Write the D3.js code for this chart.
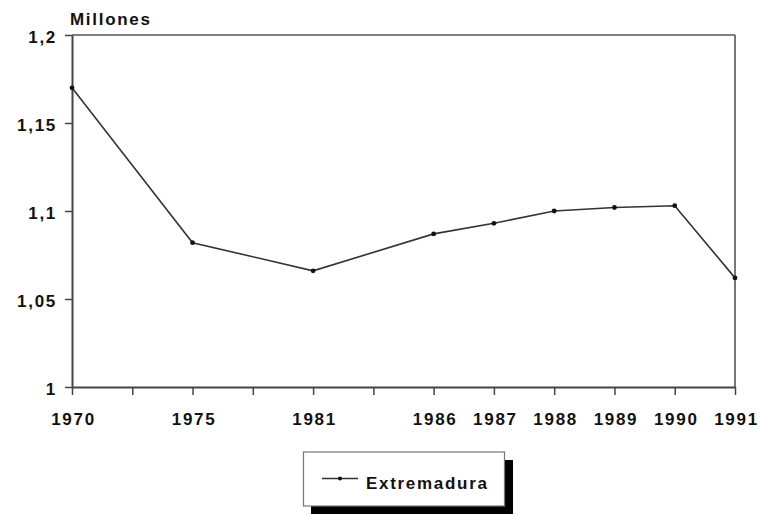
<!DOCTYPE html>
<html>
<head>
<meta charset="utf-8">
<script src="https://cdn.jsdelivr.net/npm/d3@7"></script>
<style>
  body { margin: 0; background: #fff; }
  svg { display: block; }
  text { font-family: "Liberation Sans", Arial, sans-serif; font-weight: bold; font-size: 17px; letter-spacing: 1.7px; fill: #111; }
</style>
</head>
<body>
<svg id="chart" width="761" height="515"></svg>
<script>
// Categories (blank slots are unlabeled intermediate ticks)
const categories = ["1970", "", "1975", "", "1981", "", "1986", "1987", "1988", "1989", "1990", "1991"];
// Population of Extremadura, millions (null = no data at that slot)
const values = [1.170, null, 1.082, null, 1.066, null, 1.087, 1.093, 1.100, 1.102, 1.103, 1.062];
const yTicks = [1, 1.05, 1.1, 1.15, 1.2];
const yTickLabels = ["1", "1,05", "1,1", "1,15", "1,2"];
const seriesName = "Extremadura";
const unitLabel = "Millones";

const svg = d3.select("#chart");
const m = { left: 72, right: 735, top: 35, bottom: 387 };

const x = d3.scalePoint().domain(d3.range(categories.length)).range([m.left, m.right]);
const y = d3.scaleLinear().domain([1, 1.2]).range([m.bottom, m.top]);

const axisColor = "#444";

// Frame: top and right border
svg.append("line").attr("x1", m.left).attr("x2", m.right).attr("y1", m.top).attr("y2", m.top)
  .attr("stroke", "#555").attr("stroke-width", 1.6);
svg.append("line").attr("x1", m.right).attr("x2", m.right).attr("y1", m.top).attr("y2", m.bottom)
  .attr("stroke", "#555").attr("stroke-width", 1.6);

// Y axis
const yAxis = svg.append("g").attr("transform", `translate(${m.left},0)`)
  .call(d3.axisLeft(y).tickValues(yTicks).tickFormat((d, i) => yTickLabels[i]).tickSize(7).tickSizeOuter(0).tickPadding(10));
yAxis.select(".domain").attr("stroke", axisColor).attr("stroke-width", 2);
yAxis.selectAll(".tick line").attr("stroke", axisColor).attr("stroke-width", 1.5);
yAxis.selectAll(".tick text").attr("font-size", null).attr("font-family", null)
  .attr("dy", "0.42em").attr("dx", "2px").style("fill", "#111");

// X axis
const xAxis = svg.append("g").attr("transform", `translate(0,${m.bottom})`)
  .call(d3.axisBottom(x).tickFormat(i => categories[i]).tickSize(8).tickSizeOuter(0).tickPadding(18));
xAxis.select(".domain").attr("stroke", axisColor).attr("stroke-width", 2);
xAxis.selectAll(".tick line").attr("stroke", axisColor).attr("stroke-width", 1.5);
xAxis.selectAll(".tick text").attr("font-size", null).attr("font-family", null)
  .attr("dx", "1px").style("fill", "#111");

// Unit label
svg.append("text").attr("x", 70).attr("y", 24.5).text(unitLabel);

// Series
const pts = values.map((v, i) => ({ i, v })).filter(d => d.v != null);
const line = d3.line().x(d => x(d.i)).y(d => y(d.v));
svg.append("path").datum(pts).attr("d", line)
  .attr("fill", "none").attr("stroke", "#333").attr("stroke-width", 1.6);
svg.selectAll("circle.pt").data(pts).join("circle").attr("class", "pt")
  .attr("cx", d => x(d.i)).attr("cy", d => y(d.v)).attr("r", 2.4).attr("fill", "#111");

// Legend
const lg = svg.append("g");
lg.append("rect").attr("x", 311).attr("y", 460).attr("width", 202).attr("height", 54).attr("fill", "#000");
lg.append("rect").attr("x", 303.5).attr("y", 452).attr("width", 201).attr("height", 54)
  .attr("fill", "#fff").attr("stroke", "#777").attr("stroke-width", 1.2);
lg.append("line").attr("x1", 322).attr("x2", 358).attr("y1", 478.5).attr("y2", 478.5)
  .attr("stroke", "#333").attr("stroke-width", 1.5);
lg.append("circle").attr("cx", 340).attr("cy", 478.5).attr("r", 2).attr("fill", "#111");
lg.append("text").attr("x", 366).attr("y", 488.5).text(seriesName);
</script>
</body>
</html>
